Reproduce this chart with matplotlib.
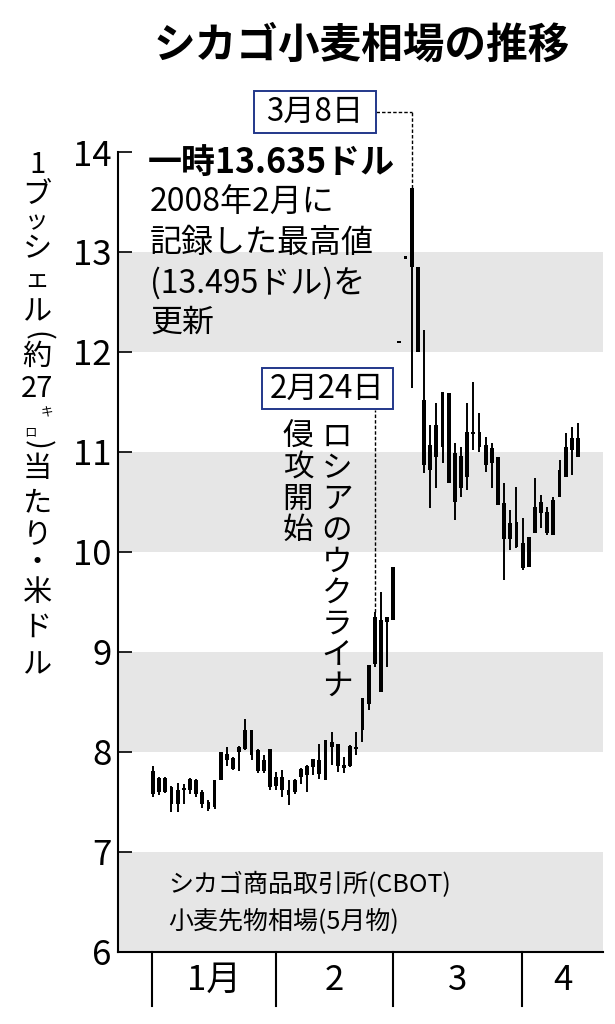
import matplotlib
matplotlib.use('Agg')
import matplotlib.pyplot as plt
from matplotlib.patches import Rectangle
import numpy as np

plt.rcParams['font.family'] = ['Noto Sans CJK JP', 'DejaVu Sans']

# 5月物 小麦先物 日足 (1月3日〜4月), 値はチャートから読み取り
highs = [7.86, 7.75, 7.75, 7.66, 7.69, 7.68, 7.74, 7.73, 7.62, 7.52,
         7.72, 8.00, 8.05, 7.95, 8.06, 8.33, 8.22, 8.03, 7.97, 8.03,
         7.80, 7.82, 7.72, 7.73, 7.84, 7.87, 7.93, 8.08, 8.12, 8.20,
         8.08, 7.95, 8.07, 8.20, 8.54, 8.87, 9.40, 9.60, 9.35, 9.85,
         12.10, 12.945, 13.635, 12.85, 12.22, 11.27, 11.49, 11.60, 11.59, 11.09,
         11.05, 11.49, 11.70, 11.39, 11.15, 11.09, 10.95, 10.69, 10.42, 10.65,
         10.34, 10.15, 10.74, 10.57, 10.45, 10.55, 10.92, 11.19, 11.25, 11.29]
lows = [7.55, 7.57, 7.59, 7.40, 7.40, 7.48, 7.58, 7.55, 7.44, 7.41,
        7.43, 7.72, 7.86, 7.82, 7.81, 8.02, 7.92, 7.79, 7.79, 7.62,
        7.62, 7.55, 7.47, 7.58, 7.68, 7.60, 7.77, 7.73, 7.72, 7.87,
        7.80, 7.79, 7.85, 7.97, 8.10, 8.42, 8.85, 8.60, 8.85, 9.32,
        12.10, 12.945, 11.64, 12.00, 10.79, 10.44, 10.64, 10.89, 10.69, 10.32,
        10.55, 10.62, 11.02, 11.00, 10.80, 10.64, 10.47, 9.72, 10.02, 10.04,
        9.82, 9.85, 10.19, 10.24, 10.17, 10.17, 10.55, 10.75, 10.77, 10.95]
opens = [7.81, 7.74, 7.60, 7.65, 7.48, 7.64, 7.62, 7.72, 7.60, 7.50,
         7.45, 7.72, 7.92, 7.94, 8.00, 8.03, 8.22, 8.02, 7.81, 8.03,
         7.66, 7.75, 7.62, 7.60, 7.75, 7.77, 7.85, 7.92, 7.72, 8.05,
         8.08, 7.87, 7.86, 8.05, 8.22, 8.48, 8.88, 9.32, 9.35, 9.32,
         12.10, 12.945, 13.635, 12.85, 11.52, 10.82, 10.95, 11.05, 11.59, 10.99,
         10.64, 10.75, 11.20, 11.20, 11.07, 11.04, 10.95, 10.49, 10.13, 10.30,
         10.09, 9.85, 10.19, 10.39, 10.40, 10.17, 10.55, 10.75, 11.02, 10.95]
closes = [7.58, 7.60, 7.74, 7.48, 7.62, 7.62, 7.73, 7.58, 7.48, 7.43,
          7.72, 8.00, 7.98, 7.83, 8.05, 8.22, 7.97, 7.81, 7.92, 7.65,
          7.75, 7.62, 7.57, 7.72, 7.83, 7.86, 7.93, 7.78, 8.12, 8.10,
          7.86, 7.84, 8.06, 8.03, 8.54, 8.87, 9.35, 8.60, 9.30, 9.85,
          12.10, 12.945, 12.85, 12.00, 10.87, 11.07, 11.27, 11.60, 10.69, 10.50,
          10.96, 11.20, 11.18, 11.05, 10.87, 10.89, 10.47, 10.13, 10.29, 10.05,
          9.84, 10.15, 10.45, 10.50, 10.19, 10.52, 10.82, 11.05, 11.14, 11.14]

month_start = [0, 20, 39, 60]
month_labels = ['1月', '2', '3', '4']
yticks = [6, 7, 8, 9, 10, 11, 12, 13, 14]
idx_feb24 = 36
idx_mar8 = 42

W, H = 615, 1024
fig = plt.figure(figsize=(W / 100, H / 100), dpi=100)


def fx(x):
    return x / W


def fy(y):
    return 1 - y / H


ax = fig.add_axes([fx(118.3), fy(951.7), fx(603.3) - fx(118.3), fy(152) - fy(951.7)])

# gray bands
for lo in [6, 8, 10, 12]:
    ax.axhspan(lo, lo + 1, color='#e6e6e6', lw=0, zorder=0)

x = np.arange(len(highs))
o = np.array(opens)
c = np.array(closes)
ax.vlines(x, lows, highs, color='black', lw=1.4, zorder=3)
body_h = np.maximum(np.abs(c - o), 0.025)
ax.bar(x, body_h, bottom=np.minimum(o, c) - (body_h - np.abs(c - o)) / 2,
       width=0.62, color='black', lw=0, zorder=3)

ax.set_xlim(-5.63, 73.1)
ax.set_ylim(6, 14)
for s in ['top', 'right']:
    ax.spines[s].set_visible(False)
for s in ['left', 'bottom']:
    ax.spines[s].set_linewidth(1.5)
ax.set_xticks([])
ax.set_yticks(yticks)
ax.set_yticklabels([str(t) for t in yticks], fontsize=25)
ax.tick_params(axis='y', direction='in', length=10, width=1.2, pad=5)

# month separators and labels
for s in month_start:
    ax.plot([s - 0.1, s - 0.1], [6, 5.46], color='black', lw=1.5, clip_on=False)
edges = [s - 0.1 for s in month_start] + [ax.get_xlim()[1]]
for i, lab in enumerate(month_labels):
    ax.text((edges[i] + edges[i + 1]) / 2, 5.715, lab, ha='center', va='center',
            fontsize=25, clip_on=False)

# leader lines
dash = (0, (2.5, 1.5))
ax.plot([idx_mar8, idx_mar8], [highs[idx_mar8], 14.40], ls=dash, lw=1, color='black', clip_on=False)
ax.plot([36.2, idx_mar8], [14.40, 14.40], ls=dash, lw=1, color='black', clip_on=False)
ax.plot([idx_feb24, idx_feb24], [highs[idx_feb24], 11.42], ls=dash, lw=1, color='black', clip_on=False)

# title
fig.text(fx(362), fy(46), 'シカゴ小麦相場の推移', fontsize=30, fontweight='bold',
         ha='center', va='center')

# date boxes
navy = '#22378a'
for (x0, x1, y0, y1, lab) in [(254, 376, 91, 133, '3月8日'), (262, 393, 368, 409, '2月24日')]:
    fig.patches.append(Rectangle((fx(x0), fy(y1)), fx(x1) - fx(x0), fy(y0) - fy(y1),
                                 transform=fig.transFigure, facecolor='white',
                                 edgecolor=navy, lw=1.4, zorder=5))
    fig.text(fx((x0 + x1) / 2), fy((y0 + y1) / 2), lab, fontsize=22.5,
             ha='center', va='center', zorder=6)

# record annotation
fig.text(fx(148), fy(162), '一時13.635ドル', fontsize=24.5, fontweight='bold',
         ha='left', va='center')
for yy, line in zip([203, 243, 283, 323],
                    ['2008年2月に', '記録した最高値', '(13.495ドル)を', '更新']):
    fig.text(fx(150), fy(yy), line, fontsize=23, ha='left', va='center')

# vertical text
for col_x, txt in [(337, 'ロシアのウクライナ'), (298, '侵攻開始')]:
    for k, ch in enumerate(txt):
        fig.text(fx(col_x), fy(437 + k * 31.2), ch, fontsize=22,
                 ha='center', va='center')

# y label (vertical writing)
ylab = [('1', 165, 0, 21), ('ブ', 195, 0, 21), ('ッ', 222, 0, 17), ('シ', 249, 0, 21),
        ('ェ', 281, 0, 18), ('ル', 312, 0, 21), ('(', 336, -90, 21), ('約', 357, 0, 21),
        ('27', 389, 0, 21), (')', 445, -90, 21), ('当', 469, 0, 21), ('た', 503, 0, 21),
        ('り', 535, 0, 21), ('・', 563, 0, 21), ('米', 593, 0, 21), ('ド', 628, 0, 21),
        ('ル', 665, 0, 21)]
for ch, yy, rot, fs in ylab:
    fig.text(fx(37), fy(yy), ch, fontsize=fs, rotation=rot, ha='center', va='center')
fig.text(fx(47), fy(413), 'キ', fontsize=9, ha='center', va='center')
fig.text(fx(30), fy(433), 'ロ', fontsize=9, ha='center', va='center')

# source note
fig.text(fx(168), fy(885), 'シカゴ商品取引所(CBOT)', fontsize=18, ha='left', va='center')
fig.text(fx(168), fy(921), '小麦先物相場(5月物)', fontsize=18, ha='left', va='center')

fig.savefig('out.png', dpi=100)
